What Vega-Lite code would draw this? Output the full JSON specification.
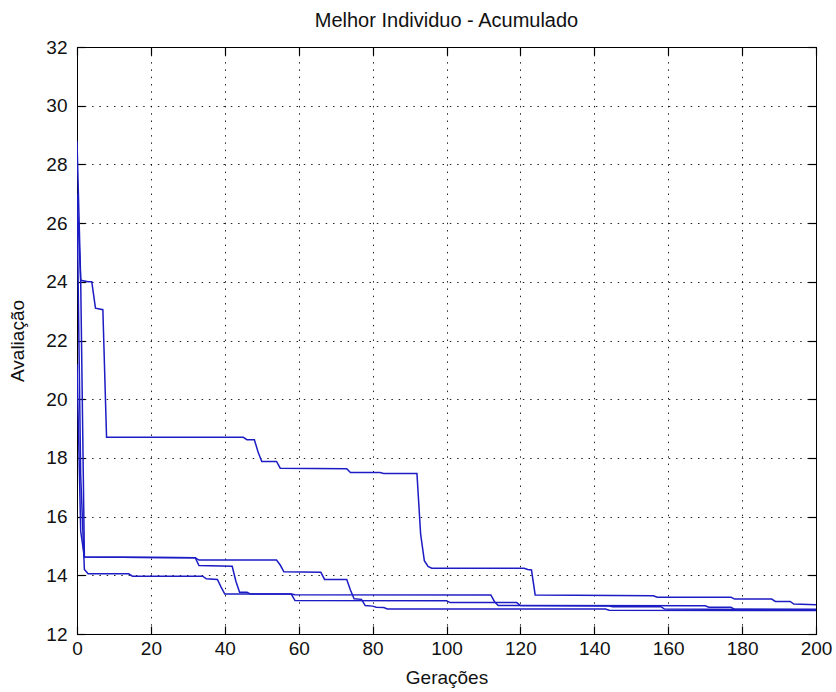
{
  "$schema": "https://vega.github.io/schema/vega-lite/v6.json",
  "width": 739,
  "height": 587,
  "autosize": "none",
  "padding": {"left": 77, "top": 47, "right": 20, "bottom": 58},
  "background": "white",
  "title": {"text": "Melhor Individuo - Acumulado", "font": "Liberation Sans", "fontSize": 20, "fontWeight": "normal", "color": "#111", "offset": 7, "anchor": "middle"},
  "config": {
    "view": {"stroke": "black", "strokeWidth": 1},
    "axis": {"labelFont": "Liberation Sans", "labelFontSize": 19, "labelColor": "#111", "titleFont": "Liberation Sans", "titleFontSize": 19, "titleFontWeight": "normal", "titleColor": "#111", "domainColor": "black", "tickColor": "black"}
  },
  "data": {"values": [
    {"s":"A","g":0,"v":28.8},{"s":"A","g":1,"v":24.05},{"s":"A","g":3,"v":24.0},{"s":"A","g":4,"v":24.0},{"s":"A","g":5,"v":23.1},{"s":"A","g":7,"v":23.05},{"s":"A","g":8,"v":18.7},{"s":"A","g":45,"v":18.7},{"s":"A","g":46,"v":18.62},{"s":"A","g":48,"v":18.62},{"s":"A","g":49,"v":18.2},{"s":"A","g":50,"v":17.88},{"s":"A","g":54,"v":17.88},{"s":"A","g":55,"v":17.65},{"s":"A","g":73,"v":17.63},{"s":"A","g":74,"v":17.5},{"s":"A","g":82,"v":17.5},{"s":"A","g":83,"v":17.47},{"s":"A","g":92,"v":17.47},{"s":"A","g":93,"v":15.4},{"s":"A","g":94,"v":14.5},{"s":"A","g":95,"v":14.3},{"s":"A","g":96,"v":14.24},{"s":"A","g":121,"v":14.24},{"s":"A","g":122,"v":14.2},{"s":"A","g":123,"v":14.18},{"s":"A","g":124,"v":13.33},{"s":"A","g":156,"v":13.3},{"s":"A","g":157,"v":13.25},{"s":"A","g":177,"v":13.25},{"s":"A","g":178,"v":13.19},{"s":"A","g":188,"v":13.19},{"s":"A","g":189,"v":13.11},{"s":"A","g":193,"v":13.11},{"s":"A","g":194,"v":13.02},{"s":"A","g":200,"v":13.0},
    {"s":"B","g":0,"v":27.0},{"s":"B","g":1,"v":24.05},{"s":"B","g":2,"v":14.62},{"s":"B","g":32,"v":14.6},{"s":"B","g":33,"v":14.52},{"s":"B","g":54,"v":14.52},{"s":"B","g":55,"v":14.35},{"s":"B","g":56,"v":14.12},{"s":"B","g":66,"v":14.1},{"s":"B","g":67,"v":13.86},{"s":"B","g":73,"v":13.86},{"s":"B","g":74,"v":13.5},{"s":"B","g":75,"v":13.2},{"s":"B","g":77,"v":13.18},{"s":"B","g":78,"v":12.97},{"s":"B","g":80,"v":12.95},{"s":"B","g":81,"v":12.91},{"s":"B","g":83,"v":12.9},{"s":"B","g":84,"v":12.85},{"s":"B","g":143,"v":12.85},{"s":"B","g":144,"v":12.81},{"s":"B","g":200,"v":12.8},
    {"s":"C","g":0,"v":21.2},{"s":"C","g":1,"v":15.5},{"s":"C","g":2,"v":14.62},{"s":"C","g":32,"v":14.6},{"s":"C","g":33,"v":14.33},{"s":"C","g":42,"v":14.31},{"s":"C","g":43,"v":13.8},{"s":"C","g":44,"v":13.42},{"s":"C","g":46,"v":13.42},{"s":"C","g":47,"v":13.36},{"s":"C","g":58,"v":13.36},{"s":"C","g":59,"v":13.14},{"s":"C","g":100,"v":13.13},{"s":"C","g":101,"v":13.07},{"s":"C","g":119,"v":13.07},{"s":"C","g":120,"v":12.97},{"s":"C","g":144,"v":12.95},{"s":"C","g":145,"v":12.93},{"s":"C","g":158,"v":12.93},{"s":"C","g":159,"v":12.85},{"s":"C","g":200,"v":12.83},
    {"s":"D","g":0,"v":27.0},{"s":"D","g":1,"v":17.4},{"s":"D","g":2,"v":14.2},{"s":"D","g":3,"v":14.05},{"s":"D","g":14,"v":14.05},{"s":"D","g":15,"v":13.97},{"s":"D","g":34,"v":13.97},{"s":"D","g":35,"v":13.88},{"s":"D","g":38,"v":13.86},{"s":"D","g":39,"v":13.6},{"s":"D","g":40,"v":13.36},{"s":"D","g":58,"v":13.36},{"s":"D","g":59,"v":13.34},{"s":"D","g":112,"v":13.33},{"s":"D","g":113,"v":13.1},{"s":"D","g":114,"v":12.97},{"s":"D","g":170,"v":12.96},{"s":"D","g":171,"v":12.91},{"s":"D","g":177,"v":12.91},{"s":"D","g":178,"v":12.84},{"s":"D","g":200,"v":12.84}
  ]},
  "layer": [
    {
      "mark": {"type": "line", "color": "#1c1cc4", "strokeWidth": 1.5, "clip": true},
      "encoding": {
        "x": {"field": "g", "type": "quantitative", "scale": {"domain": [0, 200], "nice": false, "zero": false},
              "axis": {"orient": "bottom", "title": "Gerações", "values": [0,20,40,60,80,100,120,140,160,180,200], "grid": true, "gridColor": "black", "gridDash": [1.5, 5.8], "gridOpacity": 0.85, "tickSize": -8, "tickWidth": 1.2, "labelPadding": 13, "titlePadding": 10, "labelFlush": false}},
        "y": {"field": "v", "type": "quantitative", "scale": {"domain": [12, 32], "nice": false, "zero": false},
              "axis": {"orient": "left", "title": "Avaliação", "values": [12,14,16,18,20,22,24,26,28,30,32], "grid": true, "gridColor": "black", "gridDash": [1.5, 5.8], "gridOpacity": 0.85, "tickSize": -8, "tickWidth": 1.2, "labelPadding": 18, "titlePadding": 18, "labelFlush": false}},
        "detail": {"field": "s", "type": "nominal"}
      }
    },
    {
      "mark": {"type": "line", "strokeOpacity": 0},
      "encoding": {
        "x": {"field": "g", "type": "quantitative", "axis": {"orient": "top", "title": null, "labels": false, "grid": false, "domain": true, "tickSize": -8, "tickWidth": 1.2, "values": [0,20,40,60,80,100,120,140,160,180,200]}},
        "y": {"field": "v", "type": "quantitative", "axis": {"orient": "right", "title": null, "labels": false, "grid": false, "domain": true, "tickSize": -8, "tickWidth": 1.2, "values": [12,14,16,18,20,22,24,26,28,30,32]}},
        "detail": {"field": "s", "type": "nominal"}
      }
    }
  ],
  "resolve": {"axis": {"x": "independent", "y": "independent"}}
}
